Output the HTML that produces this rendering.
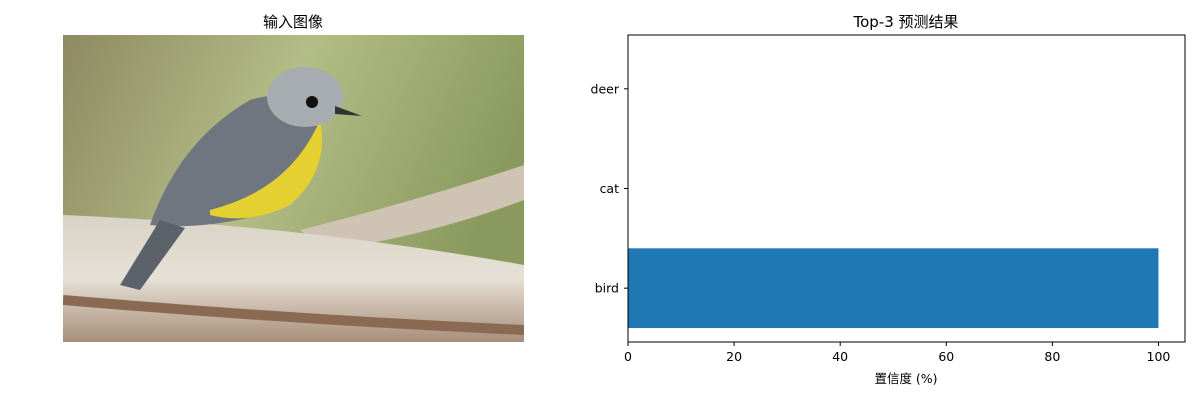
<!DOCTYPE html>
<html><head><meta charset="utf-8"><style>
body{margin:0;background:#fff;width:1200px;height:400px;overflow:hidden;font-family:"DejaVu Sans","Noto Sans CJK SC",sans-serif}
</style></head><body>
<svg width="1200" height="400" xmlns="http://www.w3.org/2000/svg" font-family="DejaVu Sans, Noto Sans CJK SC, sans-serif">
<defs>
<linearGradient id="bg" x1="0" y1="0" x2="1" y2="0.3">
<stop offset="0" stop-color="#8e8a62"/><stop offset="0.5" stop-color="#b3bd86"/><stop offset="1" stop-color="#8a9a5e"/></linearGradient>
<linearGradient id="br" x1="0" y1="0" x2="0" y2="1">
<stop offset="0" stop-color="#d9d2c6"/><stop offset="0.5" stop-color="#e6e0d6"/><stop offset="1" stop-color="#a88e78"/></linearGradient>
<clipPath id="ic"><rect x="63" y="35" width="461" height="307"/></clipPath>
</defs>
<text x="293" y="27" font-size="15" text-anchor="middle">输入图像</text>
<g clip-path="url(#ic)">
<rect x="63" y="35" width="461" height="307" fill="url(#bg)"/>
<path d="M300 230 Q420 200 524 165 L524 200 Q430 235 330 250 Z" fill="#cfc3b4"/>
<path d="M63 215 Q300 225 524 265 L524 342 L63 342 Z" fill="url(#br)"/>
<path d="M63 300 Q300 320 524 330" stroke="#8a6a52" stroke-width="10" fill="none"/>
<path d="M150 225 Q180 140 250 100 Q300 85 320 120 Q325 175 260 215 Q200 230 150 225 Z" fill="#6f7680"/>
<path d="M210 210 Q290 190 320 120 Q330 170 290 205 Q250 225 210 215 Z" fill="#e4d030"/>
<ellipse cx="305" cy="97" rx="38" ry="30" fill="#a7acb0"/>
<circle cx="312" cy="102" r="6" fill="#111"/>
<path d="M335 106 L362 116 L335 114 Z" fill="#333"/>
<path d="M160 220 L120 285 L140 290 L185 228 Z" fill="#5c626a"/>
</g>
<text x="906" y="27" font-size="15" text-anchor="middle">Top-3 预测结果</text>
<g id="chart"></g>
<text x="906" y="383" font-size="12.5" text-anchor="middle">置信度 (%)</text>
</svg>
<script>
const categories = ["bird","cat","deer"];
const values = [100, 0.01, 0.005];
const xTicks = [0,20,40,60,80,100];
const NS="http://www.w3.org/2000/svg";
const L=628,R=1185,T=35,B=342;
const xmax=105, ylo=-0.54, yhi=2.54;
const X=v=>L+(v/xmax)*(R-L);
const Y=v=>B-(v-ylo)/(yhi-ylo)*(B-T);
const g=document.getElementById('chart');
function mk(t,a){const e=document.createElementNS(NS,t);for(const k in a)e.setAttribute(k,a[k]);g.appendChild(e);return e;}
categories.forEach((c,i)=>{
  const r=mk('rect',{x:X(0),y:Y(i+0.4),width:X(values[i])-X(0),height:Y(i-0.4)-Y(i+0.4),fill:'#1f77b4'});
  
  
  const tk=mk('line',{x1:L-4,x2:L,y1:Y(i),y2:Y(i),stroke:'#000'});
  
  
  const t=mk('text',{x:L-9,y:Y(i)+4.5,'font-size':12.5,'text-anchor':'end'});
  t.textContent=c;
  
  
});
xTicks.forEach(v=>{
  const tk=mk('line',{x1:X(v),x2:X(v),y1:B,y2:B+4,stroke:'#000'});
  
  
  const t=mk('text',{x:X(v),y:B+19,'font-size':12.5,'text-anchor':'middle'});
  t.textContent=v;
  
  
});
const f=mk('rect',{x:L,y:T,width:R-L,height:B-T,fill:'none',stroke:'#000','stroke-width':1});


</script>
</body></html>
